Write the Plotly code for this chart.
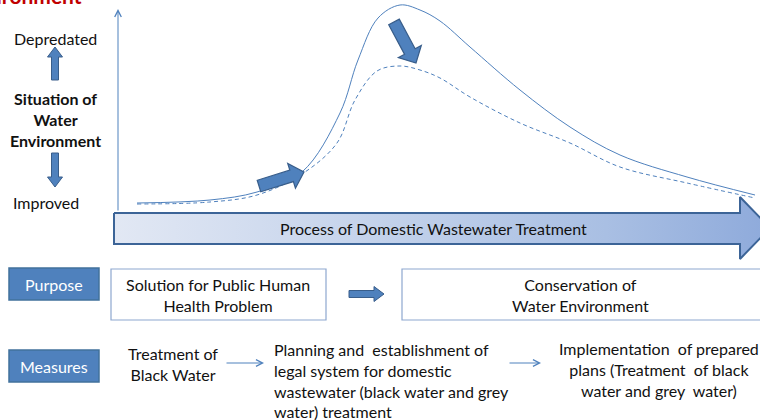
import math
import plotly.graph_objects as go

# ---- data ----
solid_x = [137, 210, 257, 302, 340, 358, 378, 400, 420, 440, 470, 520, 570, 620, 687, 755]
solid_y = [203, 200, 192, 172, 113, 60, 18, 5, 10, 21, 47, 90, 127, 155, 177, 195]
dashed_x = [137, 210, 257, 302, 337, 355, 377, 400, 420, 440, 470, 520, 570, 620, 687, 755]
dashed_y = [204, 202, 195, 174, 143, 100, 71, 66, 70, 78, 97, 123, 143, 167, 183, 198]

left_labels = ["Depredated", "<b>Situation of<br>Water<br>Environment</b>", "Improved"]
process_label = "Process of Domestic Wastewater Treatment"
row_labels = ["Purpose", "Measures"]
purpose_texts = ["Solution for Public Human<br>Health Problem", "Conservation of<br>Water Environment"]
measure_texts = ["Treatment of<br>Black Water",
                 "Planning and  establishment of<br>legal system for domestic<br>wastewater (black water and grey<br>water) treatment",
                 "Implementation  of prepared<br>plans (Treatment  of black<br>water and grey  water)"]
title_fragment = "Environment"

BLUE = "#4f81bd"
DARK = "#385d8a"
FONT = "Lato"
FS = 16

fig = go.Figure()


def block_arrow(x0, y0, x1, y1, bw, hw, hl):
    dx, dy = x1 - x0, y1 - y0
    L = math.hypot(dx, dy)
    ux, uy = dx / L, dy / L
    nx, ny = -uy, ux
    bx, by = x1 - ux * hl, y1 - uy * hl
    pts = [(x0 + nx * bw / 2, y0 + ny * bw / 2), (bx + nx * bw / 2, by + ny * bw / 2),
           (bx + nx * hw / 2, by + ny * hw / 2), (x1, y1),
           (bx - nx * hw / 2, by - ny * hw / 2), (bx - nx * bw / 2, by - ny * bw / 2),
           (x0 - nx * bw / 2, y0 - ny * bw / 2)]
    return "M " + " L ".join(f"{px:.2f},{py:.2f}" for px, py in pts) + " Z"


shapes = []

# curves
fig.add_trace(go.Scatter(x=solid_x, y=solid_y, mode="lines",
                         line=dict(color=BLUE, width=1, shape="spline", smoothing=1.0),
                         hoverinfo="skip", showlegend=False))
fig.add_trace(go.Scatter(x=dashed_x, y=dashed_y, mode="lines",
                         line=dict(color=BLUE, width=1, shape="spline", smoothing=1.0, dash="4px,3px"),
                         hoverinfo="skip", showlegend=False))

# big process arrow with gradient
px = [114, 740, 740, 770, 740, 740, 114, 114]
py = [213, 213, 197, 228, 259, 244, 244, 213]
fig.add_trace(go.Scatter(x=px, y=py, mode="lines", fill="toself",
                         fillgradient=dict(type="horizontal",
                                           colorscale=[[0, "#e2e8f4"], [0.75, "#a9bfe3"], [1, "#8eaadb"]]),
                         line=dict(color="#3c6497", width=2),
                         hoverinfo="skip", showlegend=False))

# thick arrows on curve
for (a, b, c, d) in [(259, 186, 304, 172), (394, 22, 416, 63)]:
    shapes.append(dict(type="path", path=block_arrow(a, b, c, d, 12, 26, 13),
                       fillcolor=BLUE, line=dict(color=DARK, width=1.2), xref="x", yref="y"))
# left up / down arrows
shapes.append(dict(type="path", path=block_arrow(55, 80, 55, 47, 7, 15, 10),
                   fillcolor=BLUE, line=dict(color=DARK, width=1), xref="x", yref="y"))
shapes.append(dict(type="path", path=block_arrow(55, 153, 55, 187, 7, 15, 10),
                   fillcolor=BLUE, line=dict(color=DARK, width=1), xref="x", yref="y"))
# arrow between purpose boxes
shapes.append(dict(type="path", path=block_arrow(349, 294, 384, 294, 7, 15, 10),
                   fillcolor=BLUE, line=dict(color=DARK, width=1), xref="x", yref="y"))

# purpose / measures label boxes
for (y0, y1) in [(268, 300), (350, 382)]:
    shapes.append(dict(type="rect", x0=9, x1=99, y0=y0, y1=y1, fillcolor=BLUE,
                       line=dict(color="#41719c", width=1.5), xref="x", yref="y"))
# white boxes
for (x0, x1) in [(111, 326), (402, 780)]:
    shapes.append(dict(type="rect", x0=x0, x1=x1, y0=269, y1=320, fillcolor="white",
                       line=dict(color="#8ea7cf", width=1.2), xref="x", yref="y"))

anns = []
# vertical axis arrow
anns.append(dict(x=118, y=9, ax=118, ay=212, xref="x", yref="y", axref="x", ayref="y",
                 showarrow=True, arrowhead=5, arrowsize=1.3, arrowwidth=1, arrowcolor=BLUE, text=""))
# thin arrows in measures row
for (a, b) in [(225, 264), (508, 541)]:
    anns.append(dict(x=b, y=363, ax=a, ay=363, xref="x", yref="y", axref="x", ayref="y",
                     showarrow=True, arrowhead=5, arrowsize=1.3, arrowwidth=1, arrowcolor=BLUE, text=""))

f = dict(family=FONT, size=FS, color="#111111")
fw = dict(family=FONT, size=FS, color="white")
anns.append(dict(x=55, y=38, text=left_labels[0], showarrow=False, xref="x", yref="y", font=f))
anns.append(dict(x=55, y=119, text=left_labels[1], showarrow=False, xref="x", yref="y", font=f))
anns.append(dict(x=46, y=202, text=left_labels[2], showarrow=False, xref="x", yref="y", font=f))
anns.append(dict(x=84, y=10, text=f"<b>{title_fragment}</b>", showarrow=False, xref="x", yref="y",
                 xanchor="right", yanchor="bottom", font=dict(family=FONT, size=21, color="#c00000")))
anns.append(dict(x=433, y=228, text=process_label, showarrow=False, xref="x", yref="y", font=f))
anns.append(dict(x=54, y=284, text=row_labels[0], showarrow=False, xref="x", yref="y", font=fw))
anns.append(dict(x=54, y=366, text=row_labels[1], showarrow=False, xref="x", yref="y", font=fw))
anns.append(dict(x=218, y=295, text=purpose_texts[0], showarrow=False, xref="x", yref="y", font=f))
anns.append(dict(x=580, y=295, text=purpose_texts[1], showarrow=False, xref="x", yref="y", font=f))
anns.append(dict(x=173, y=364, text=measure_texts[0], showarrow=False, xref="x", yref="y", font=f))
anns.append(dict(x=272, y=380, text=measure_texts[1], showarrow=False, xref="x", yref="y",
                 xanchor="left", yanchor="middle", align="left", font=f))
anns.append(dict(x=659, y=369.5, text=measure_texts[2], showarrow=False, xref="x", yref="y",
                 xanchor="center", yanchor="middle", align="center", font=f))

fig.update_layout(
    width=760, height=420, margin=dict(l=0, r=0, t=0, b=0),
    paper_bgcolor="white", plot_bgcolor="white",
    xaxis=dict(range=[0, 760], visible=False, fixedrange=True),
    yaxis=dict(range=[420, 0], visible=False, fixedrange=True),
    shapes=shapes, annotations=anns, showlegend=False,
)
fig.write_html("out.html", config={"displayModeBar": False},
               post_script="document.body.style.margin='0';document.body.style.overflow='hidden';")
